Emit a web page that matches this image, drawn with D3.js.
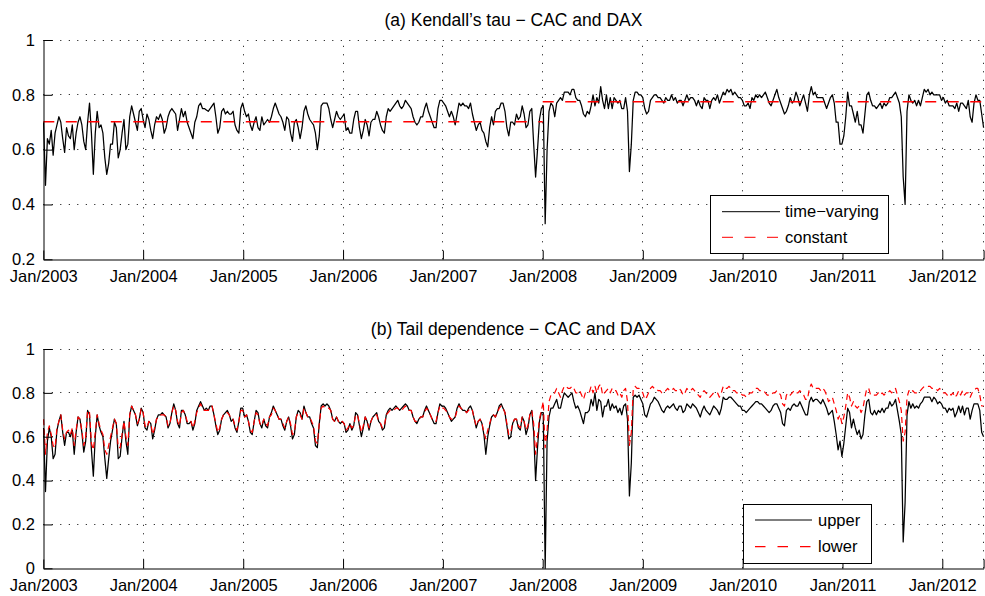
<!DOCTYPE html>
<html>
<head>
<meta charset="utf-8">
<script src="https://cdn.jsdelivr.net/npm/d3@7"></script>
<style>
  body { margin: 0; background: #fff; }
  svg { display: block; font-family: "Liberation Sans", Arial, Helvetica, sans-serif; }
</style>
</head>
<body>
<svg id="chart" width="985" height="596"></svg>
<script>
// Weekly observations, first one on 2 Jan 2003
const startDate = "2003-01-02";
const stepDays = 7;
const axisStart = "2003-01-01";

// (a) time-varying Kendall's tau, CAC vs DAX
const tau = [
  0.70,0.47,0.64,0.62,0.67,0.58,0.66,0.69,0.72,0.70,
  0.64,0.59,0.68,0.65,0.64,0.69,0.60,0.66,0.70,0.72,
  0.69,0.63,0.60,0.70,0.77,0.66,0.51,0.66,0.74,0.68,
  0.69,0.66,0.57,0.51,0.55,0.62,0.62,0.70,0.68,0.57,
  0.60,0.66,0.71,0.60,0.62,0.72,0.76,0.73,0.70,0.67,
  0.74,0.75,0.71,0.68,0.73,0.71,0.67,0.64,0.69,0.72,
  0.71,0.73,0.71,0.66,0.68,0.72,0.74,0.75,0.74,0.73,
  0.67,0.71,0.75,0.72,0.74,0.70,0.68,0.66,0.64,0.70,
  0.72,0.76,0.77,0.75,0.75,0.745,0.74,0.75,0.76,0.77,
  0.72,0.66,0.68,0.74,0.75,0.73,0.74,0.73,0.73,0.74,
  0.69,0.67,0.66,0.75,0.77,0.74,0.72,0.73,0.69,0.67,
  0.70,0.72,0.68,0.67,0.72,0.69,0.70,0.71,0.70,0.72,
  0.75,0.77,0.75,0.73,0.72,0.70,0.67,0.72,0.71,0.66,
  0.63,0.70,0.71,0.68,0.64,0.68,0.74,0.76,0.73,0.71,
  0.70,0.69,0.66,0.60,0.65,0.76,0.77,0.77,0.77,0.75,
  0.71,0.68,0.71,0.74,0.72,0.71,0.72,0.73,0.67,0.68,
  0.66,0.66,0.71,0.74,0.74,0.68,0.64,0.67,0.71,0.69,
  0.65,0.70,0.71,0.71,0.74,0.72,0.69,0.67,0.66,0.72,
  0.75,0.74,0.75,0.76,0.77,0.78,0.76,0.75,0.76,0.78,
  0.77,0.76,0.75,0.72,0.70,0.69,0.70,0.72,0.72,0.75,
  0.77,0.74,0.72,0.70,0.68,0.68,0.75,0.78,0.78,0.77,
  0.76,0.74,0.72,0.74,0.72,0.69,0.73,0.77,0.76,0.77,
  0.76,0.76,0.75,0.77,0.73,0.70,0.67,0.69,0.70,0.67,
  0.66,0.63,0.61,0.68,0.72,0.69,0.74,0.75,0.75,0.77,
  0.77,0.74,0.68,0.65,0.70,0.70,0.69,0.73,0.71,0.72,
  0.76,0.73,0.68,0.69,0.74,0.75,0.62,0.50,0.60,0.71,
  0.75,0.76,0.33,0.60,0.74,0.77,0.76,0.72,0.77,0.78,
  0.79,0.78,0.81,0.81,0.81,0.80,0.82,0.82,0.79,0.78,
  0.78,0.76,0.73,0.72,0.74,0.73,0.76,0.80,0.76,0.79,
  0.77,0.83,0.78,0.75,0.80,0.75,0.79,0.75,0.79,0.78,
  0.77,0.78,0.75,0.75,0.79,0.74,0.52,0.62,0.78,0.81,
  0.81,0.80,0.80,0.79,0.75,0.73,0.74,0.78,0.79,0.80,
  0.80,0.79,0.79,0.78,0.77,0.79,0.78,0.78,0.80,0.78,
  0.79,0.77,0.78,0.78,0.76,0.78,0.80,0.78,0.79,0.79,
  0.78,0.76,0.78,0.76,0.75,0.79,0.78,0.78,0.75,0.78,
  0.79,0.78,0.80,0.77,0.79,0.81,0.80,0.82,0.81,0.82,
  0.80,0.81,0.80,0.79,0.79,0.78,0.76,0.76,0.77,0.75,
  0.79,0.78,0.80,0.79,0.80,0.79,0.80,0.81,0.79,0.77,
  0.76,0.78,0.80,0.82,0.79,0.77,0.75,0.73,0.74,0.76,
  0.79,0.77,0.78,0.81,0.79,0.76,0.78,0.80,0.77,0.74,
  0.80,0.83,0.80,0.81,0.79,0.79,0.79,0.79,0.77,0.75,
  0.77,0.79,0.80,0.77,0.70,0.70,0.62,0.62,0.65,0.72,
  0.81,0.76,0.76,0.73,0.70,0.74,0.69,0.69,0.66,0.73,
  0.80,0.81,0.78,0.76,0.76,0.75,0.76,0.77,0.75,0.77,
  0.76,0.77,0.79,0.79,0.80,0.81,0.79,0.77,0.72,0.50,
  0.40,0.74,0.80,0.78,0.77,0.78,0.76,0.78,0.76,0.79,
  0.82,0.81,0.82,0.80,0.81,0.80,0.80,0.80,0.80,0.78,
  0.79,0.77,0.78,0.76,0.76,0.76,0.75,0.77,0.74,0.77,
  0.77,0.76,0.75,0.78,0.72,0.70,0.77,0.80,0.78,0.78,
  0.73,0.68
];

// (a) constant-parameter tau, before and after the 2008 break
const regimeBreak = "2008-01-01";
const tauConstant = [0.702, 0.775];

// (b) upper tail dependence
const upperTail = [
  0.64,0.35,0.58,0.64,0.60,0.50,0.52,0.63,0.67,0.70,
  0.62,0.56,0.62,0.62,0.60,0.63,0.52,0.62,0.69,0.68,
  0.62,0.53,0.58,0.72,0.70,0.54,0.42,0.60,0.70,0.65,
  0.62,0.60,0.50,0.41,0.50,0.58,0.63,0.68,0.66,0.50,
  0.51,0.60,0.67,0.58,0.52,0.70,0.74,0.72,0.70,0.65,
  0.68,0.73,0.71,0.64,0.63,0.67,0.66,0.59,0.63,0.68,
  0.70,0.70,0.71,0.70,0.69,0.64,0.66,0.71,0.75,0.72,
  0.66,0.64,0.72,0.72,0.70,0.66,0.66,0.67,0.63,0.66,
  0.72,0.74,0.76,0.74,0.72,0.73,0.72,0.74,0.74,0.70,
  0.65,0.61,0.63,0.68,0.70,0.71,0.72,0.70,0.67,0.68,
  0.64,0.62,0.67,0.73,0.73,0.69,0.70,0.67,0.62,0.61,
  0.67,0.72,0.71,0.66,0.64,0.68,0.65,0.64,0.69,0.71,
  0.74,0.72,0.70,0.68,0.68,0.65,0.63,0.67,0.69,0.65,
  0.59,0.61,0.69,0.72,0.71,0.68,0.74,0.71,0.69,0.69,
  0.66,0.64,0.56,0.55,0.66,0.74,0.75,0.74,0.75,0.74,
  0.72,0.68,0.67,0.69,0.67,0.66,0.67,0.66,0.62,0.63,
  0.66,0.63,0.65,0.71,0.70,0.65,0.60,0.64,0.69,0.67,
  0.63,0.67,0.69,0.70,0.71,0.67,0.66,0.63,0.64,0.70,
  0.72,0.73,0.72,0.73,0.74,0.73,0.72,0.73,0.74,0.75,
  0.74,0.72,0.72,0.69,0.67,0.66,0.68,0.69,0.69,0.72,
  0.74,0.72,0.70,0.68,0.66,0.66,0.71,0.75,0.74,0.74,
  0.73,0.71,0.69,0.67,0.68,0.69,0.73,0.75,0.73,0.72,
  0.72,0.71,0.73,0.74,0.72,0.68,0.64,0.67,0.68,0.66,
  0.61,0.52,0.60,0.65,0.69,0.70,0.69,0.71,0.74,0.75,
  0.73,0.71,0.65,0.59,0.60,0.66,0.68,0.68,0.64,0.63,
  0.69,0.67,0.61,0.64,0.70,0.72,0.62,0.40,0.55,0.67,
  0.71,0.71,0.00,0.58,0.69,0.73,0.73,0.75,0.77,0.73,
  0.73,0.77,0.80,0.79,0.78,0.79,0.80,0.76,0.73,0.74,
  0.72,0.69,0.66,0.71,0.71,0.72,0.77,0.74,0.80,0.72,
  0.77,0.76,0.69,0.74,0.74,0.77,0.72,0.75,0.73,0.74,
  0.71,0.73,0.70,0.74,0.75,0.68,0.33,0.48,0.78,0.79,
  0.78,0.79,0.77,0.75,0.70,0.69,0.72,0.75,0.76,0.78,
  0.77,0.76,0.74,0.72,0.71,0.73,0.74,0.73,0.74,0.75,
  0.73,0.72,0.74,0.74,0.71,0.72,0.75,0.74,0.73,0.75,
  0.74,0.73,0.71,0.69,0.72,0.74,0.72,0.71,0.70,0.72,
  0.74,0.73,0.72,0.70,0.73,0.78,0.77,0.77,0.78,0.78,
  0.77,0.76,0.75,0.74,0.74,0.72,0.72,0.71,0.72,0.73,
  0.74,0.75,0.76,0.76,0.75,0.75,0.74,0.73,0.72,0.71,
  0.72,0.74,0.75,0.75,0.73,0.71,0.66,0.65,0.72,0.73,
  0.72,0.74,0.75,0.74,0.74,0.76,0.74,0.72,0.70,0.70,
  0.76,0.78,0.76,0.77,0.77,0.76,0.75,0.77,0.75,0.73,
  0.70,0.71,0.72,0.67,0.61,0.54,0.58,0.51,0.57,0.65,
  0.73,0.71,0.64,0.68,0.64,0.61,0.63,0.59,0.61,0.70,
  0.76,0.77,0.71,0.70,0.72,0.70,0.72,0.71,0.73,0.71,
  0.73,0.73,0.76,0.74,0.75,0.77,0.72,0.67,0.61,0.12,
  0.30,0.70,0.76,0.73,0.75,0.73,0.74,0.73,0.75,0.76,
  0.78,0.78,0.78,0.78,0.76,0.78,0.77,0.75,0.76,0.75,
  0.73,0.73,0.71,0.73,0.72,0.73,0.69,0.71,0.74,0.71,
  0.74,0.70,0.73,0.73,0.68,0.72,0.75,0.75,0.75,0.72,
  0.62,0.60
];

// (b) lower tail dependence
const lowerTail = [
  0.68,0.52,0.62,0.65,0.61,0.56,0.55,0.64,0.67,0.70,
  0.63,0.59,0.62,0.63,0.61,0.64,0.56,0.63,0.69,0.68,
  0.63,0.56,0.60,0.72,0.71,0.57,0.54,0.62,0.70,0.66,
  0.63,0.61,0.54,0.52,0.56,0.60,0.64,0.68,0.66,0.55,
  0.55,0.61,0.67,0.60,0.56,0.70,0.74,0.72,0.70,0.66,
  0.68,0.73,0.71,0.65,0.64,0.67,0.66,0.61,0.64,0.68,
  0.69,0.70,0.70,0.70,0.69,0.65,0.66,0.71,0.74,0.72,
  0.67,0.65,0.71,0.72,0.70,0.67,0.66,0.67,0.64,0.67,
  0.71,0.73,0.75,0.73,0.72,0.72,0.72,0.73,0.74,0.70,
  0.66,0.62,0.64,0.68,0.70,0.71,0.71,0.70,0.68,0.68,
  0.65,0.63,0.67,0.72,0.72,0.69,0.70,0.67,0.63,0.62,
  0.67,0.71,0.70,0.66,0.65,0.68,0.66,0.65,0.69,0.70,
  0.73,0.72,0.70,0.68,0.68,0.66,0.64,0.67,0.69,0.66,
  0.61,0.62,0.69,0.71,0.70,0.68,0.73,0.71,0.69,0.69,
  0.67,0.65,0.58,0.57,0.66,0.73,0.74,0.73,0.73,0.73,
  0.72,0.68,0.67,0.69,0.67,0.66,0.67,0.66,0.63,0.64,
  0.66,0.64,0.65,0.70,0.70,0.66,0.62,0.65,0.69,0.67,
  0.64,0.67,0.69,0.70,0.70,0.67,0.66,0.64,0.65,0.70,
  0.71,0.72,0.72,0.72,0.73,0.73,0.72,0.72,0.73,0.74,
  0.73,0.72,0.72,0.69,0.67,0.67,0.68,0.69,0.69,0.71,
  0.73,0.72,0.70,0.68,0.67,0.67,0.71,0.74,0.73,0.73,
  0.72,0.71,0.69,0.68,0.68,0.69,0.72,0.74,0.73,0.72,
  0.72,0.71,0.72,0.73,0.72,0.68,0.65,0.67,0.68,0.66,
  0.62,0.59,0.63,0.66,0.69,0.70,0.69,0.71,0.73,0.74,
  0.73,0.71,0.66,0.61,0.62,0.66,0.68,0.68,0.65,0.64,
  0.69,0.67,0.63,0.65,0.70,0.72,0.66,0.52,0.60,0.68,
  0.72,0.76,0.55,0.63,0.76,0.79,0.79,0.80,0.82,0.80,
  0.78,0.81,0.83,0.83,0.82,0.82,0.83,0.82,0.80,0.80,
  0.81,0.79,0.77,0.80,0.80,0.80,0.83,0.80,0.83,0.80,
  0.83,0.84,0.79,0.80,0.81,0.82,0.80,0.82,0.81,0.81,
  0.79,0.80,0.78,0.81,0.82,0.76,0.56,0.62,0.82,0.83,
  0.82,0.82,0.81,0.80,0.77,0.78,0.80,0.82,0.83,0.82,
  0.82,0.81,0.81,0.80,0.80,0.81,0.82,0.81,0.81,0.82,
  0.81,0.81,0.82,0.81,0.79,0.80,0.82,0.81,0.81,0.82,
  0.81,0.80,0.79,0.78,0.80,0.81,0.80,0.79,0.78,0.79,
  0.80,0.80,0.80,0.78,0.80,0.83,0.82,0.82,0.83,0.82,
  0.81,0.81,0.80,0.80,0.80,0.79,0.79,0.78,0.79,0.80,
  0.80,0.81,0.82,0.82,0.81,0.81,0.81,0.80,0.79,0.79,
  0.79,0.80,0.80,0.81,0.80,0.79,0.75,0.74,0.79,0.80,
  0.79,0.80,0.81,0.80,0.80,0.81,0.80,0.79,0.77,0.77,
  0.82,0.84,0.82,0.82,0.82,0.82,0.81,0.82,0.81,0.79,
  0.76,0.77,0.78,0.75,0.72,0.68,0.70,0.66,0.69,0.74,
  0.80,0.78,0.74,0.76,0.74,0.73,0.74,0.71,0.73,0.78,
  0.82,0.82,0.79,0.79,0.79,0.79,0.80,0.79,0.80,0.79,
  0.80,0.80,0.81,0.80,0.81,0.82,0.79,0.76,0.72,0.58,
  0.62,0.78,0.81,0.80,0.81,0.80,0.80,0.80,0.81,0.82,
  0.83,0.83,0.83,0.83,0.82,0.82,0.82,0.81,0.82,0.81,
  0.80,0.80,0.79,0.80,0.79,0.80,0.78,0.79,0.81,0.79,
  0.81,0.79,0.80,0.80,0.78,0.80,0.81,0.82,0.82,0.79,
  0.74,0.74
];

const yearTicks = ["2003","2004","2005","2006","2007","2008","2009","2010","2011","2012"];
const tauTicks = [0.2, 0.4, 0.6, 0.8, 1];
const tailTicks = [0, 0.2, 0.4, 0.6, 0.8, 1];
const titles = ["(a) Kendall\u2019s tau \u2212 CAC and DAX", "(b) Tail dependence \u2212 CAC and DAX"];
const legendA = ["time\u2212varying", "constant"];
const legendB = ["upper", "lower"];

const svg = d3.select("#chart");
const parseDay = d3.utcParse("%Y-%m-%d");
const firstObs = parseDay(startDate);
const dates = tau.map((_, i) => d3.utcDay.offset(firstObs, i * stepDays));
const x = d3.scaleUtc()
  .domain([parseDay(axisStart), dates[dates.length - 1]])
  .range([43.3, 983.6]);
const yearDates = yearTicks.map(y => parseDay(y + "-01-01"));
// the axis end also carries an unlabelled tick and grid line
const xTickDates = yearDates.concat([x.domain()[1]]);
const fmtTick = d => (yearDates.some(y => +y === +d) ? d3.utcFormat("%b/%Y")(d) : "");
const FONT = 16.5;
const crisp = v => Math.round(v - 0.5) + 0.5;

function drawPanel(cfg) {
  const g = svg.append("g");
  const y = d3.scaleLinear().domain(cfg.yDomain).range([cfg.bottom, cfg.top]);
  const [x0, x1] = x.range();

  // dotted grid
  const grid = g.append("g").attr("stroke", "#000").attr("stroke-width", 1)
    .attr("stroke-dasharray", "1,7.5").attr("fill", "none");
  grid.selectAll("line.h").data(cfg.yTicks.filter(t => t !== cfg.yDomain[0])).join("line")
    .attr("class", "h")
    .attr("x1", x0).attr("x2", x1)
    .attr("y1", d => crisp(y(d))).attr("y2", d => crisp(y(d)));
  grid.selectAll("line.v").data(xTickDates.slice(1)).join("line")
    .attr("class", "v")
    .attr("x1", d => crisp(x(d))).attr("x2", d => crisp(x(d)))
    .attr("y1", cfg.bottom).attr("y2", cfg.top);

  // data
  const line = d3.line().x((d, i) => x(dates[i])).y(d => y(d));
  cfg.series.forEach(s => {
    g.append("path").datum(s.values)
      .attr("d", line)
      .attr("fill", "none")
      .attr("stroke", s.color)
      .attr("stroke-width", s.width)
      .attr("stroke-dasharray", s.dash || null)
      .attr("stroke-linejoin", "round");
  });
  if (cfg.extra) cfg.extra(g, y);

  // axes with inward ticks
  const xAxis = d3.axisBottom(x).tickValues(xTickDates).tickFormat(fmtTick)
    .tickSizeInner(-9).tickSizeOuter(0).tickPadding(10.5);
  const gx = g.append("g").attr("transform", `translate(0,${crisp(cfg.bottom)})`).call(xAxis);
  const yAxis = d3.axisLeft(y).tickValues(cfg.yTicks).tickFormat(d3.format("~g"))
    .tickSizeInner(-9).tickSizeOuter(0).tickPadding(8.5);
  const gy = g.append("g").attr("transform", `translate(${crisp(x0)},0)`).call(yAxis);
  [gx, gy].forEach(a => {
    a.attr("font-family", null).attr("font-size", FONT);
    a.selectAll("path.domain").attr("stroke", "#000").attr("stroke-width", 1);
    a.selectAll(".tick line").attr("stroke", "#000").attr("stroke-width", 1);
    a.selectAll(".tick text").attr("fill", "#000");
  });

  // title
  g.append("text")
    .attr("x", (x0 + x1) / 2).attr("y", cfg.titleY)
    .attr("text-anchor", "middle").attr("font-size", 17.5).attr("fill", "#000")
    .text(cfg.title);

  // legend
  const L = cfg.legend;
  const lg = g.append("g");
  lg.append("rect").attr("x", L.x + 0.5).attr("y", L.y + 0.5).attr("width", L.w).attr("height", L.h)
    .attr("fill", "#fff").attr("stroke", "#000").attr("stroke-width", 1);
  L.items.forEach((it, k) => {
    const yy = L.y + L.rows[k];
    lg.append("line").attr("x1", L.lineX0).attr("x2", L.lineX1)
      .attr("y1", yy).attr("y2", yy)
      .attr("stroke", it.color).attr("stroke-width", it.width)
      .attr("stroke-dasharray", it.dash || null);
    lg.append("text").attr("x", L.textX).attr("y", yy).attr("dy", "0.35em")
      .attr("font-size", FONT).attr("fill", "#000").text(it.label);
  });
}

// panel (a)
drawPanel({
  yDomain: [0.2, 1], yTicks: tauTicks, top: 40, bottom: 259.3, titleY: 26,
  title: titles[0],
  series: [{ values: tau, color: "#000", width: 1.25 }],
  extra: (g, y) => {
    const brk = parseDay(regimeBreak);
    const segs = [
      [x.domain()[0], brk, tauConstant[0]],
      [brk, x.domain()[1], tauConstant[1]]
    ];
    g.selectAll("line.const").data(segs).join("line").attr("class", "const")
      .attr("x1", d => x(d[0])).attr("x2", d => x(d[1]))
      .attr("y1", d => y(d[2])).attr("y2", d => y(d[2]))
      .attr("stroke", "#ff0000").attr("stroke-width", 1.6)
      .attr("stroke-dasharray", "11,11.5");
  },
  legend: {
    x: 710, y: 195, w: 178, h: 58, rows: [16.7, 42.3], lineX0: 722, lineX1: 780, textX: 785,
    items: [
      { label: legendA[0], color: "#000", width: 1 },
      { label: legendA[1], color: "#ff3030", width: 1.2, dash: "11,11.5" }
    ]
  }
});

// panel (b)
drawPanel({
  yDomain: [0, 1], yTicks: tailTicks, top: 349, bottom: 568.3, titleY: 335,
  title: titles[1],
  series: [
    { values: upperTail, color: "#000", width: 1.25 },
    { values: lowerTail, color: "#ff0000", width: 1.2, dash: "6,4" }
  ],
  legend: {
    x: 743, y: 504, w: 128, h: 59, rows: [16, 42.7], lineX0: 755, lineX1: 812, textX: 818,
    items: [
      { label: legendB[0], color: "#000", width: 1 },
      { label: legendB[1], color: "#ff0000", width: 1.2, dash: "10.5,12" }
    ]
  }
});
</script>
</body>
</html>
